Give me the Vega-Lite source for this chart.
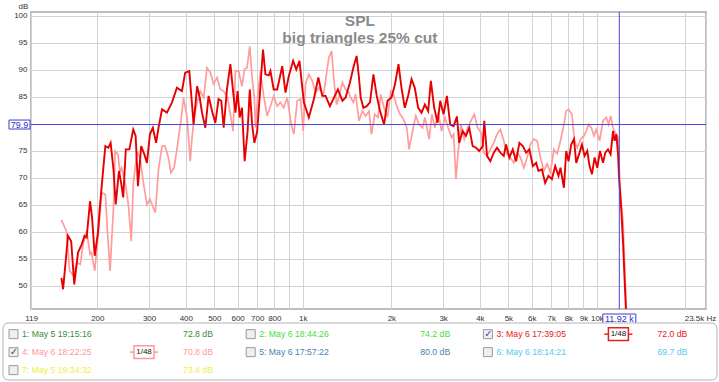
{
  "$schema": "https://vega.github.io/schema/vega-lite/v6.json",
  "background": "white",
  "padding": {"left": 2, "top": 1, "right": 2, "bottom": 1},
  "config": {"font": "Liberation Sans"},
  "title": {"text": "SPL", "subtitle": "big triangles 25% cut", "anchor": "middle", "frame": "bounds", "orient": "top", "offset": -45, "fontSize": 15.5, "fontWeight": "bold", "color": "#8a8a8a", "subtitleFontSize": 15.5, "subtitleFontWeight": "bold", "subtitleColor": "#8a8a8a", "subtitlePadding": 1},
  "datasets": {
    "m3": [
      {"freq":151,"spl":51.5},{"freq":153,"spl":49.4},{"freq":159,"spl":59.3},{"freq":163,"spl":58.3},{"freq":167,"spl":50.3},{"freq":172,"spl":56.2},{"freq":177,"spl":57.7},{"freq":181,"spl":59.3},{"freq":184,"spl":59.0},{"freq":189,"spl":65.7},{"freq":192,"spl":62.6},{"freq":196,"spl":55.6},{"freq":201,"spl":59.9},{"freq":204,"spl":64.5},{"freq":208,"spl":69.8},{"freq":213,"spl":75.9},{"freq":218,"spl":75.6},{"freq":222,"spl":76.5},{"freq":227,"spl":71.6},{"freq":231,"spl":65.1},{"freq":237,"spl":71.3},{"freq":241,"spl":69.1},{"freq":245,"spl":66.4},{"freq":250,"spl":75.3},{"freq":257,"spl":75.3},{"freq":265,"spl":79.0},{"freq":270,"spl":77.8},{"freq":275,"spl":68.5},{"freq":282,"spl":75.9},{"freq":289,"spl":74.4},{"freq":295,"spl":72.8},{"freq":302,"spl":78.1},{"freq":309,"spl":79.3},{"freq":317,"spl":76.5},{"freq":323,"spl":79.3},{"freq":332,"spl":82.7},{"freq":345,"spl":82.1},{"freq":359,"spl":84.0},{"freq":373,"spl":86.7},{"freq":388,"spl":86.1},{"freq":398,"spl":89.5},{"freq":411,"spl":89.8},{"freq":420,"spl":83.6},{"freq":425,"spl":79.9},{"freq":437,"spl":87.0},{"freq":446,"spl":84.9},{"freq":454,"spl":82.1},{"freq":466,"spl":79.3},{"freq":478,"spl":85.2},{"freq":491,"spl":82.4},{"freq":504,"spl":80.2},{"freq":517,"spl":84.6},{"freq":528,"spl":84.3},{"freq":538,"spl":79.3},{"freq":552,"spl":86.4},{"freq":567,"spl":91.1},{"freq":579,"spl":86.1},{"freq":590,"spl":82.1},{"freq":600,"spl":86.1},{"freq":610,"spl":81.2},{"freq":621,"spl":83.0},{"freq":634,"spl":73.1},{"freq":649,"spl":78.7},{"freq":660,"spl":86.4},{"freq":672,"spl":80.0},{"freq":684,"spl":76.5},{"freq":699,"spl":78.5},{"freq":713,"spl":84.9},{"freq":732,"spl":93.8},{"freq":746,"spl":89.2},{"freq":766,"spl":89.0},{"freq":776,"spl":89.8},{"freq":796,"spl":86.4},{"freq":818,"spl":86.4},{"freq":851,"spl":90.7},{"freq":873,"spl":85.8},{"freq":896,"spl":88.9},{"freq":927,"spl":91.7},{"freq":950,"spl":90.1},{"freq":974,"spl":91.7},{"freq":990,"spl":88.0},{"freq":1008,"spl":84.0},{"freq":1048,"spl":81.2},{"freq":1090,"spl":84.6},{"freq":1129,"spl":88.6},{"freq":1165,"spl":85.2},{"freq":1195,"spl":85.2},{"freq":1236,"spl":83.3},{"freq":1276,"spl":84.9},{"freq":1316,"spl":86.4},{"freq":1363,"spl":84.3},{"freq":1398,"spl":84.9},{"freq":1446,"spl":87.7},{"freq":1485,"spl":90.4},{"freq":1524,"spl":92.6},{"freq":1552,"spl":88.6},{"freq":1573,"spl":84.9},{"freq":1607,"spl":83.0},{"freq":1649,"spl":83.3},{"freq":1692,"spl":84.0},{"freq":1738,"spl":89.2},{"freq":1784,"spl":85.2},{"freq":1830,"spl":82.4},{"freq":1889,"spl":79.9},{"freq":1940,"spl":84.3},{"freq":2002,"spl":84.9},{"freq":2059,"spl":87.4},{"freq":2115,"spl":91.1},{"freq":2165,"spl":86.7},{"freq":2222,"spl":83.0},{"freq":2280,"spl":85.2},{"freq":2342,"spl":88.3},{"freq":2403,"spl":86.7},{"freq":2467,"spl":83.0},{"freq":2533,"spl":82.1},{"freq":2600,"spl":83.6},{"freq":2668,"spl":82.4},{"freq":2725,"spl":88.0},{"freq":2797,"spl":83.0},{"freq":2872,"spl":80.2},{"freq":2932,"spl":84.3},{"freq":3011,"spl":81.8},{"freq":3090,"spl":85.2},{"freq":3171,"spl":79.9},{"freq":3257,"spl":79.6},{"freq":3342,"spl":81.4},{"freq":3403,"spl":76.5},{"freq":3495,"spl":78.7},{"freq":3587,"spl":77.8},{"freq":3681,"spl":79.3},{"freq":3781,"spl":75.9},{"freq":3880,"spl":75.6},{"freq":3982,"spl":75.0},{"freq":4090,"spl":75.9},{"freq":4141,"spl":80.6},{"freq":4230,"spl":74.1},{"freq":4341,"spl":73.1},{"freq":4459,"spl":74.7},{"freq":4575,"spl":75.6},{"freq":4696,"spl":74.7},{"freq":4823,"spl":74.1},{"freq":4910,"spl":76.2},{"freq":5039,"spl":73.8},{"freq":5176,"spl":75.3},{"freq":5311,"spl":73.1},{"freq":5451,"spl":76.5},{"freq":5598,"spl":75.9},{"freq":5745,"spl":74.7},{"freq":5896,"spl":75.3},{"freq":6055,"spl":72.2},{"freq":6214,"spl":72.8},{"freq":6328,"spl":71.3},{"freq":6499,"spl":71.6},{"freq":6669,"spl":69.1},{"freq":6844,"spl":70.4},{"freq":7030,"spl":69.8},{"freq":7214,"spl":72.2},{"freq":7403,"spl":70.4},{"freq":7520,"spl":71.9},{"freq":7724,"spl":68.2},{"freq":7865,"spl":75.0},{"freq":8008,"spl":73.1},{"freq":8179,"spl":76.2},{"freq":8355,"spl":77.2},{"freq":8507,"spl":72.8},{"freq":8731,"spl":74.7},{"freq":8896,"spl":76.2},{"freq":9080,"spl":74.1},{"freq":9274,"spl":75.0},{"freq":9444,"spl":72.2},{"freq":9623,"spl":70.7},{"freq":9821,"spl":73.8},{"freq":10031,"spl":71.9},{"freq":10246,"spl":75.0},{"freq":10491,"spl":72.8},{"freq":10681,"spl":74.7},{"freq":10910,"spl":75.3},{"freq":11135,"spl":74.4},{"freq":11347,"spl":78.7},{"freq":11490,"spl":76.9},{"freq":11645,"spl":78.1},{"freq":11801,"spl":74.4},{"freq":11894,"spl":70.1},{"freq":12110,"spl":64.0},{"freq":12273,"spl":58.0},{"freq":12428,"spl":51.0},{"freq":12595,"spl":44.0}
    ],
    "m4": [
      {"freq":151,"spl":62.2},{"freq":157,"spl":60.2},{"freq":161,"spl":52.8},{"freq":166,"spl":51.9},{"freq":170,"spl":54.3},{"freq":175,"spl":54.0},{"freq":179,"spl":57.7},{"freq":184,"spl":60.2},{"freq":189,"spl":55.9},{"freq":191,"spl":56.2},{"freq":196,"spl":52.8},{"freq":202,"spl":60.2},{"freq":207,"spl":67.3},{"freq":213,"spl":67.0},{"freq":217,"spl":59.3},{"freq":221,"spl":52.8},{"freq":227,"spl":64.5},{"freq":230,"spl":75.0},{"freq":235,"spl":74.4},{"freq":239,"spl":71.0},{"freq":242,"spl":71.9},{"freq":249,"spl":69.1},{"freq":255,"spl":65.1},{"freq":261,"spl":58.3},{"freq":265,"spl":68.8},{"freq":273,"spl":75.0},{"freq":280,"spl":73.5},{"freq":287,"spl":69.1},{"freq":295,"spl":65.1},{"freq":302,"spl":66.1},{"freq":310,"spl":64.5},{"freq":315,"spl":63.6},{"freq":323,"spl":71.6},{"freq":332,"spl":75.9},{"freq":340,"spl":75.9},{"freq":349,"spl":73.8},{"freq":356,"spl":71.0},{"freq":365,"spl":71.9},{"freq":375,"spl":76.2},{"freq":385,"spl":80.6},{"freq":393,"spl":84.9},{"freq":404,"spl":81.2},{"freq":414,"spl":73.1},{"freq":420,"spl":77.5},{"freq":427,"spl":81.2},{"freq":437,"spl":84.0},{"freq":448,"spl":86.1},{"freq":460,"spl":84.9},{"freq":472,"spl":90.4},{"freq":485,"spl":89.5},{"freq":497,"spl":87.4},{"freq":511,"spl":88.6},{"freq":524,"spl":86.4},{"freq":538,"spl":86.1},{"freq":555,"spl":84.9},{"freq":567,"spl":81.8},{"freq":579,"spl":78.7},{"freq":590,"spl":89.8},{"freq":605,"spl":89.8},{"freq":621,"spl":87.0},{"freq":633,"spl":90.1},{"freq":646,"spl":90.4},{"freq":660,"spl":94.4},{"freq":672,"spl":88.6},{"freq":684,"spl":84.9},{"freq":690,"spl":79.3},{"freq":702,"spl":84.9},{"freq":717,"spl":89.8},{"freq":736,"spl":85.2},{"freq":756,"spl":81.5},{"freq":776,"spl":83.3},{"freq":796,"spl":85.2},{"freq":818,"spl":83.3},{"freq":839,"spl":84.0},{"freq":861,"spl":83.0},{"freq":885,"spl":84.9},{"freq":913,"spl":79.9},{"freq":932,"spl":78.1},{"freq":957,"spl":84.3},{"freq":982,"spl":84.6},{"freq":1003,"spl":78.7},{"freq":1021,"spl":87.4},{"freq":1048,"spl":89.2},{"freq":1077,"spl":88.0},{"freq":1105,"spl":85.8},{"freq":1134,"spl":86.7},{"freq":1174,"spl":85.2},{"freq":1205,"spl":89.5},{"freq":1226,"spl":92.3},{"freq":1253,"spl":93.5},{"freq":1276,"spl":88.0},{"freq":1303,"spl":83.6},{"freq":1327,"spl":84.9},{"freq":1363,"spl":87.7},{"freq":1398,"spl":86.4},{"freq":1435,"spl":85.8},{"freq":1454,"spl":84.9},{"freq":1485,"spl":84.0},{"freq":1512,"spl":85.5},{"freq":1552,"spl":80.6},{"freq":1594,"spl":82.4},{"freq":1636,"spl":81.5},{"freq":1679,"spl":82.4},{"freq":1711,"spl":78.1},{"freq":1756,"spl":81.8},{"freq":1802,"spl":81.2},{"freq":1840,"spl":85.5},{"freq":1889,"spl":83.0},{"freq":1940,"spl":81.2},{"freq":1991,"spl":86.1},{"freq":2033,"spl":85.5},{"freq":2087,"spl":83.3},{"freq":2141,"spl":81.8},{"freq":2199,"spl":80.9},{"freq":2257,"spl":79.3},{"freq":2298,"spl":75.3},{"freq":2361,"spl":78.7},{"freq":2422,"spl":81.5},{"freq":2486,"spl":79.9},{"freq":2553,"spl":79.3},{"freq":2600,"spl":81.2},{"freq":2689,"spl":77.2},{"freq":2747,"spl":81.8},{"freq":2812,"spl":79.3},{"freq":2886,"spl":82.1},{"freq":2964,"spl":78.7},{"freq":3042,"spl":81.2},{"freq":3121,"spl":79.3},{"freq":3206,"spl":77.5},{"freq":3257,"spl":78.1},{"freq":3316,"spl":69.8},{"freq":3376,"spl":75.0},{"freq":3449,"spl":79.9},{"freq":3540,"spl":77.2},{"freq":3635,"spl":79.3},{"freq":3730,"spl":80.6},{"freq":3828,"spl":81.8},{"freq":3932,"spl":79.3},{"freq":4035,"spl":78.4},{"freq":4122,"spl":74.7},{"freq":4230,"spl":74.1},{"freq":4341,"spl":75.3},{"freq":4459,"spl":76.5},{"freq":4575,"spl":78.1},{"freq":4696,"spl":79.0},{"freq":4823,"spl":76.9},{"freq":4949,"spl":74.4},{"freq":5079,"spl":73.8},{"freq":5216,"spl":72.8},{"freq":5353,"spl":74.7},{"freq":5494,"spl":73.8},{"freq":5642,"spl":71.9},{"freq":5790,"spl":73.8},{"freq":5942,"spl":76.2},{"freq":6103,"spl":77.2},{"freq":6263,"spl":76.9},{"freq":6428,"spl":73.8},{"freq":6602,"spl":71.3},{"freq":6775,"spl":72.6},{"freq":6953,"spl":71.0},{"freq":7141,"spl":75.3},{"freq":7328,"spl":74.5},{"freq":7520,"spl":76.9},{"freq":7724,"spl":79.9},{"freq":7865,"spl":82.4},{"freq":8008,"spl":82.7},{"freq":8225,"spl":81.8},{"freq":8394,"spl":76.9},{"freq":8574,"spl":75.6},{"freq":8798,"spl":77.2},{"freq":9037,"spl":77.8},{"freq":9202,"spl":78.7},{"freq":9369,"spl":79.9},{"freq":9570,"spl":79.3},{"freq":9775,"spl":77.8},{"freq":9953,"spl":79.0},{"freq":10214,"spl":76.9},{"freq":10491,"spl":80.6},{"freq":10766,"spl":81.2},{"freq":10961,"spl":79.9},{"freq":11135,"spl":81.5},{"freq":11347,"spl":79.3},{"freq":11554,"spl":78.4},{"freq":11801,"spl":77.5},{"freq":11950,"spl":70.1},{"freq":12110,"spl":65.1},{"freq":12273,"spl":62.0},{"freq":12428,"spl":54.0},{"freq":12595,"spl":45.4},{"freq":12700,"spl":42.0}
    ],
    "cursor": [{"f": 11920, "db": 79.9}],
    "meas": [
      {"id": 1, "name": "1: May 5 19:15:16", "level": 72.8, "checked": false, "smoothing": ""},
      {"id": 2, "name": "2: May 6 18:44:26", "level": 74.2, "checked": false, "smoothing": ""},
      {"id": 3, "name": "3: May 6 17:39:05", "level": 72.0, "checked": true, "smoothing": "1/48"},
      {"id": 4, "name": "4: May 6 18:22:25", "level": 70.8, "checked": true, "smoothing": "1/48"},
      {"id": 5, "name": "5: May 6 17:57:22", "level": 80.0, "checked": false, "smoothing": ""},
      {"id": 6, "name": "6: May 6 18:14:21", "level": 69.7, "checked": false, "smoothing": ""},
      {"id": 7, "name": "7: May 5 19:34:32", "level": 73.4, "checked": false, "smoothing": ""}
    ],
    "panel": [{"x0": 0, "x1": 3.01, "y0": -0.62, "y1": 2.55}]
  },
  "concat": [
    {
      "width": 675,
      "height": 297,
      "view": {"stroke": "#a8a8a8", "strokeWidth": 1.5},
      "layer": [
        {
          "data": {"name": "m4"},
          "mark": {"type": "line", "color": "#ff9c9c", "strokeWidth": 1.7, "clip": true},
          "encoding": {
            "x": {"field": "freq", "type": "quantitative",
              "scale": {"type": "log", "domain": [119, 23500], "nice": false},
              "axis": {"title": null, "values": [119,200,300,400,500,600,700,800,900,1000,2000,3000,4000,5000,6000,7000,8000,9000,10000,20000,23500],
                "tickCount": 60,
                "labelExpr": "datum.value == 900 || datum.value == 20000 ? '' : datum.value == 23500 ? '23.5k Hz' : datum.value >= 1000 ? (datum.value / 1000) + 'k' : '' + datum.value",
                "grid": true, "gridColor": "#d2d2d2", "gridWidth": 1, "ticks": false, "tickSize": 0, "domain": false,
                "labelFontSize": 8, "labelColor": "#333333", "labelPadding": 5, "labelOverlap": false, "labelFlush": false, "labelBound": false,
                "labelOffset": {"condition": {"test": "datum.value == 23500", "value": -6}, "value": 0}}},
            "y": {"field": "spl", "type": "quantitative",
              "scale": {"domain": [45.74, 100.74], "nice": false, "zero": false},
              "axis": {"title": "dB", "values": [50,55,60,65,70,75,80,85,90,95,100],
                "tickCount": 40,
                "labelExpr": "datum.value == 80 ? '' : datum.label",
                "grid": true, "gridColor": "#d2d2d2", "gridWidth": 1, "ticks": false, "tickSize": 0, "domain": false,
                "labelFontSize": 8, "labelColor": "#333333", "labelPadding": 4, "labelOverlap": false, "minExtent": 28, "maxExtent": 28,
                "titleAngle": 0, "titleX": -8, "titleY": -6, "titleAlign": "center", "titleBaseline": "middle",
                "titleFontSize": 8, "titleFontWeight": "normal", "titleColor": "#333333"}}
          }
        },
        {
          "data": {"name": "m3"},
          "mark": {"type": "line", "color": "#e60000", "strokeWidth": 1.9, "clip": true},
          "encoding": {
            "x": {"field": "freq", "type": "quantitative"},
            "y": {"field": "spl", "type": "quantitative"}
          }
        },
        {
          "data": {"name": "cursor"},
          "mark": {"type": "rule", "color": "#4646d8", "strokeWidth": 1},
          "encoding": {"x": {"field": "f", "type": "quantitative"}}
        },
        {
          "data": {"name": "cursor"},
          "mark": {"type": "rule", "color": "#4646d8", "strokeWidth": 1},
          "encoding": {"y": {"field": "db", "type": "quantitative"}}
        },
        {
          "data": {"name": "cursor"},
          "mark": {"type": "point", "shape": "M-1.05,-0.45H1.05V0.45H-1.05Z", "size": 400, "filled": true, "fill": "white", "stroke": "#3c3cd0", "strokeWidth": 1, "opacity": 1, "xOffset": -11.5},
          "encoding": {"x": {"datum": 119}, "y": {"field": "db", "type": "quantitative"}}
        },
        {
          "data": {"name": "cursor"},
          "mark": {"type": "text", "color": "#2e2ec8", "fontSize": 9, "align": "center", "baseline": "middle", "xOffset": -11.5},
          "encoding": {"x": {"datum": 119}, "y": {"field": "db", "type": "quantitative"}, "text": {"field": "db", "type": "quantitative", "format": ".1f"}}
        },
        {
          "data": {"name": "cursor"},
          "mark": {"type": "point", "shape": "M-1.65,-0.5H1.65V0.5H-1.65Z", "size": 400, "filled": true, "fill": "white", "stroke": "#3c3cd0", "strokeWidth": 1, "opacity": 1, "yOffset": 10},
          "encoding": {"x": {"field": "f", "type": "quantitative"}, "y": {"datum": 45.74}}
        },
        {
          "data": {"name": "cursor"},
          "transform": [{"calculate": "format(datum.f / 1000, '.2f') + ' k'", "as": "flabel"}],
          "mark": {"type": "text", "color": "#2e2ec8", "fontSize": 9, "align": "center", "baseline": "middle", "yOffset": 10},
          "encoding": {"x": {"field": "f", "type": "quantitative"}, "y": {"datum": 45.74}, "text": {"field": "flabel"}}
        }
      ]
    },
    {
      "width": 686,
      "height": 57,
      "view": {"stroke": null},
      "layer": [
        {
          "data": {"name": "panel"},
          "mark": {"type": "rect", "fill": "white", "stroke": "#b4b4b4", "strokeWidth": 1, "cornerRadius": 5, "clip": false},
          "encoding": {
            "x": {"field": "x0", "type": "quantitative", "scale": {"domain": [0, 3.01], "range": [-28, 686], "nice": false, "zero": false}, "axis": null},
            "x2": {"field": "x1"},
            "y": {"field": "y0", "type": "quantitative", "scale": {"domain": [-0.62, 2.55], "reverse": true, "nice": false, "zero": false}, "axis": null},
            "y2": {"field": "y1"}
          }
        },
        {
          "data": {"name": "meas"},
          "transform": [
            {"calculate": "(datum.id - 1) % 3", "as": "col"},
            {"calculate": "floor((datum.id - 1) / 3)", "as": "row"},
            {"calculate": "format(datum.level, '.1f') + ' dB'", "as": "label"}
          ],
          "encoding": {
            "x": {"field": "col", "type": "quantitative"},
            "y": {"field": "row", "type": "quantitative"}
          },
          "layer": [
            {"mark": {"type": "point", "shape": "square", "size": 81, "filled": true, "fill": "#efefef", "stroke": "#9a9a9a", "strokeWidth": 1, "opacity": 1, "xOffset": 10.5}},
            {"transform": [{"filter": "datum.checked"}],
             "mark": {"type": "text", "text": "✓", "color": "#3a4aa8", "fontSize": 10, "fontWeight": "bold", "font": "DejaVu Sans", "align": "center", "baseline": "middle", "xOffset": 11}},
            {"mark": {"type": "text", "fontSize": 8.7, "align": "left", "baseline": "middle", "xOffset": 19},
             "encoding": {"text": {"field": "name"}, "color": {"field": "name", "type": "nominal", "legend": null,
               "scale": {"domain": ["1: May 5 19:15:16","2: May 6 18:44:26","3: May 6 17:39:05","4: May 6 18:22:25","5: May 6 17:57:22","6: May 6 18:14:21","7: May 5 19:34:32"],
                         "range": ["#3c8c3c","#44dd44","#e62020","#ff9999","#4a7fb5","#55c8f0","#eeee44"]}}}},
            {"mark": {"type": "text", "fontSize": 8.7, "align": "right", "baseline": "middle", "xOffset": 210},
             "encoding": {"text": {"field": "label"}, "color": {"field": "name", "type": "nominal", "legend": null}}},
            {"transform": [{"filter": "datum.smoothing != ''"}],
             "mark": {"type": "point", "shape": "M-1.4,0H1.4", "size": 400, "filled": false, "strokeWidth": 1.5, "opacity": 1, "xOffset": 141},
             "encoding": {"stroke": {"field": "name", "type": "nominal", "legend": null,
               "scale": {"domain": ["1: May 5 19:15:16","2: May 6 18:44:26","3: May 6 17:39:05","4: May 6 18:22:25","5: May 6 17:57:22","6: May 6 18:14:21","7: May 5 19:34:32"],
                         "range": ["#3c8c3c","#44dd44","#e62020","#ff9999","#4a7fb5","#55c8f0","#eeee44"]}}}},
            {"transform": [{"filter": "datum.smoothing != ''"}],
             "mark": {"type": "point", "shape": "M-1,-0.63H1V0.63H-1Z", "size": 400, "filled": true, "fill": "white", "strokeWidth": 1.5, "opacity": 1, "xOffset": 141},
             "encoding": {"stroke": {"field": "name", "type": "nominal", "legend": null}}},
            {"transform": [{"filter": "datum.smoothing != ''"}],
             "mark": {"type": "text", "color": "#111111", "fontSize": 8, "align": "center", "baseline": "middle", "xOffset": 141},
             "encoding": {"text": {"field": "smoothing"}}}
          ]
        }
      ]
    }
  ],
  "columns": 1,
  "spacing": -5,
  "align": "none"
}
